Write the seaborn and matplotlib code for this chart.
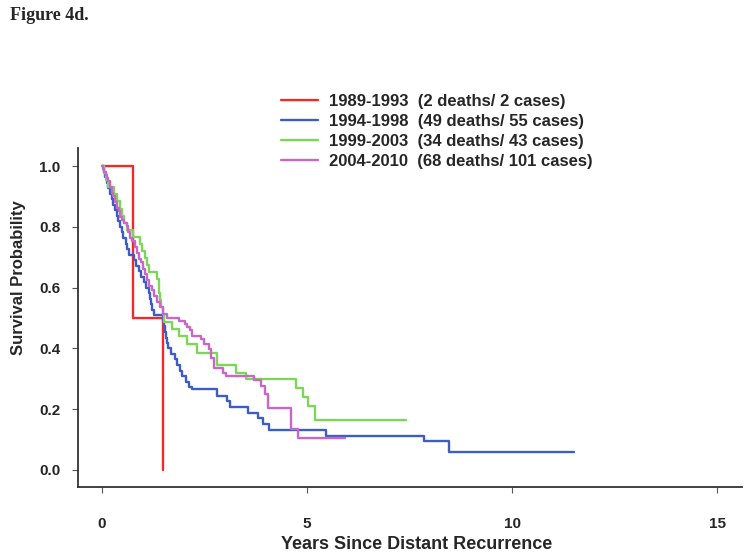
import matplotlib
matplotlib.use('Agg')
import pandas as pd
import matplotlib.pyplot as plt
import seaborn as sns

# Kaplan-Meier step curves (years, survival probability)
periods = ['1989-1993', '1994-1998', '1999-2003', '2004-2010']
counts = ['(2 deaths/ 2 cases)', '(49 deaths/ 55 cases)',
          '(34 deaths/ 43 cases)', '(68 deaths/ 101 cases)']

t_8993 = [0.00, 0.75, 1.50]
s_8993 = [1.000, 0.500, 0.000]

t_9498 = [0.00, 0.04, 0.08, 0.12, 0.16, 0.20, 0.24, 0.28, 0.32, 0.36, 0.40,
          0.44, 0.48, 0.52, 0.58, 0.62, 0.66, 0.78, 0.84, 0.90, 0.96, 1.02,
          1.08, 1.14, 1.17, 1.20, 1.23, 1.26, 1.50, 1.52, 1.54, 1.56, 1.58,
          1.62, 1.68, 1.78, 1.84, 1.90, 1.96, 2.04, 2.12, 2.20, 2.80, 3.05,
          3.12, 3.55, 3.80, 3.92, 4.08, 5.45, 7.85, 8.45, 11.50]
s_9498 = [1.000, 0.982, 0.964, 0.945, 0.927, 0.909, 0.891, 0.873, 0.855, 0.836,
          0.818, 0.800, 0.782, 0.764, 0.745, 0.727, 0.709, 0.691, 0.673, 0.655,
          0.636, 0.618, 0.600, 0.582, 0.564, 0.545, 0.527, 0.509, 0.491, 0.473,
          0.455, 0.436, 0.418, 0.400, 0.382, 0.364, 0.345, 0.327, 0.309, 0.291,
          0.273, 0.266, 0.245, 0.226, 0.207, 0.188, 0.170, 0.151, 0.132, 0.113,
          0.094, 0.058, 0.058]

t_9903 = [0.00, 0.05, 0.10, 0.16, 0.30, 0.38, 0.45, 0.50, 0.55, 0.60, 0.75,
          0.93, 0.98, 1.04, 1.10, 1.15, 1.35, 1.38, 1.40, 1.42, 1.45, 1.48,
          1.52, 1.70, 1.87, 2.08, 2.32, 2.80, 3.26, 3.50, 4.73, 4.90, 5.02,
          5.19, 7.40]
s_9903 = [1.000, 0.977, 0.953, 0.930, 0.907, 0.884, 0.860, 0.837, 0.814, 0.791,
          0.767, 0.744, 0.721, 0.698, 0.674, 0.651, 0.628, 0.605, 0.581, 0.558,
          0.535, 0.512, 0.488, 0.463, 0.440, 0.414, 0.385, 0.345, 0.320, 0.298,
          0.270, 0.240, 0.212, 0.165, 0.165]

t_0410 = [0.00, 0.03, 0.06, 0.10, 0.13, 0.16, 0.20, 0.24, 0.28, 0.31, 0.36,
          0.41, 0.45, 0.50, 0.55, 0.60, 0.64, 0.68, 0.74, 0.80, 0.86, 0.90,
          0.95, 1.00, 1.05, 1.10, 1.16, 1.22, 1.28, 1.34, 1.42, 1.50, 1.58,
          1.88, 2.02, 2.08, 2.14, 2.20, 2.42, 2.50, 2.60, 2.66, 2.72, 2.95,
          3.02, 3.70, 3.88, 3.98, 4.05, 4.60, 4.78, 5.92]
s_0410 = [1.000, 0.990, 0.980, 0.970, 0.960, 0.950, 0.931, 0.911, 0.901, 0.881,
          0.861, 0.851, 0.832, 0.822, 0.812, 0.802, 0.782, 0.762, 0.752, 0.733,
          0.713, 0.693, 0.683, 0.663, 0.644, 0.624, 0.604, 0.594, 0.574, 0.554,
          0.535, 0.515, 0.500, 0.490, 0.480, 0.470, 0.460, 0.440, 0.430, 0.414,
          0.397, 0.368, 0.335, 0.320, 0.310, 0.297, 0.276, 0.250, 0.205, 0.135,
          0.105, 0.105]

colors = ['#f02a2a', '#3d5cc4', '#7fd45a', '#c868c6']

rows = []
for p, tt, ss in zip(periods, [t_8993, t_9498, t_9903, t_0410],
                     [s_8993, s_9498, s_9903, s_0410]):
    for a, b in zip(tt, ss):
        rows.append((p, a, b))
df = pd.DataFrame(rows, columns=['period', 'years', 'surv'])

sns.set_theme(style='ticks')
plt.rcParams['font.family'] = ['Liberation Sans', 'DejaVu Sans']
plt.rcParams['font.weight'] = 'bold'

fig = plt.figure(figsize=(7.51, 5.55), dpi=100)
ax = fig.add_axes([0.104, 0.1225, 0.884, 0.611])

sns.lineplot(data=df, x='years', y='surv', hue='period', hue_order=periods,
             palette=dict(zip(periods, colors)), estimator=None, sort=False,
             drawstyle='steps-post', linewidth=1.7, ax=ax)

ax.set_xlim(-0.58, 15.6)
ax.set_ylim(-0.056, 1.06)
ax.set_xticks([0, 5, 10, 15])
ax.set_yticks([0.0, 0.2, 0.4, 0.6, 0.8, 1.0])
ax.set_yticklabels(['0.0', '0.2', '0.4', '0.6', '0.8', '1.0'])
ax.tick_params(axis='both', labelsize=11, length=4.5, width=0.8, color='#555555')
ax.tick_params(axis='x', pad=17)
ax.tick_params(axis='y', pad=8)
for side in ['top', 'right']:
    ax.spines[side].set_visible(False)
for side in ['left', 'bottom']:
    ax.spines[side].set_linewidth(1.3)
    ax.spines[side].set_color('#333333')

ax.set_xlabel('Years Since Distant Recurrence', fontsize=13, fontweight='bold')
ax.set_ylabel('Survival Probability', fontsize=12, fontweight='bold')
ax.xaxis.set_label_coords(0.51, -0.145)
ax.yaxis.set_label_coords(-0.079, 0.617)

handles, labels = ax.get_legend_handles_labels()
labels = [p + '  ' + c for p, c in zip(periods, counts)]
ax.legend(handles[:4], labels, loc='upper left', frameon=False, fontsize=12,
          bbox_to_anchor=(281 / 751, 1 - 94 / 555), bbox_transform=fig.transFigure,
          borderpad=0, borderaxespad=0, handlelength=2.2, handletextpad=0.7,
          labelspacing=0.3)

fig.text(10 / 751, 1 - 16 / 555, 'Figure 4d.', fontsize=13, fontweight='bold',
         family=['Liberation Serif', 'DejaVu Serif'], va='center', ha='left')

fig.savefig('out.png', dpi=100)
